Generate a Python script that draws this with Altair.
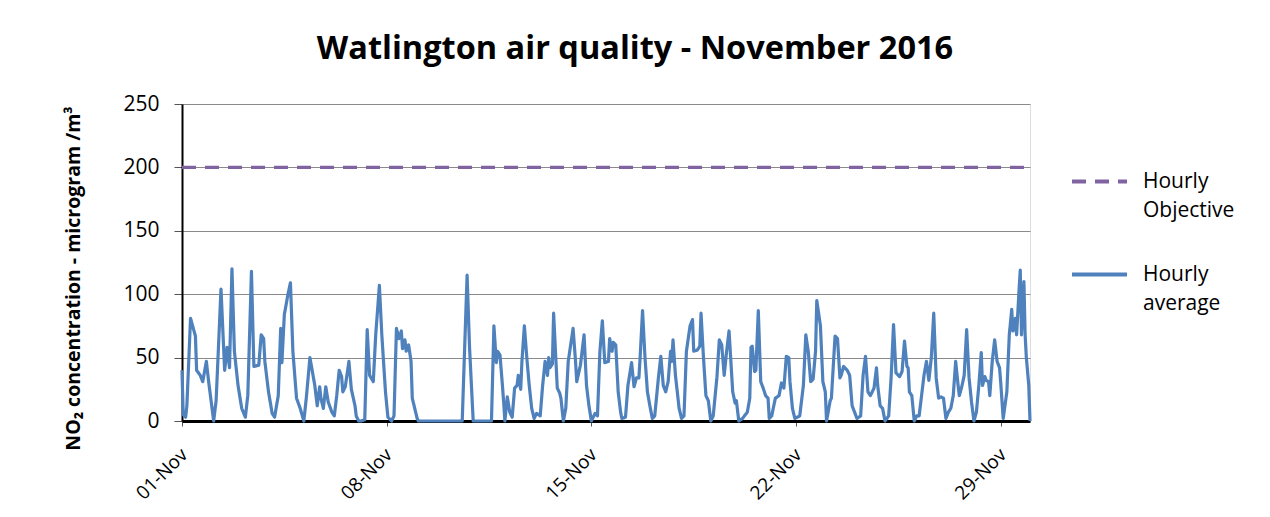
import altair as alt
import pandas as pd

# Hourly NO2 readings (hours after 01-Nov 00:00, value)
hours = [
    0, 1, 3, 4, 7, 11, 12, 15, 17, 20, 22, 26, 28, 32, 35, 37, 39, 41, 43, 46,
    49, 52, 54, 57, 59, 63, 65, 67, 68, 71, 74, 76, 79, 81, 82, 84, 87, 89, 91, 94,
    97, 100, 102, 105, 107, 109, 111, 113, 114, 116, 118, 120, 123, 125, 127, 129, 131, 132, 134, 137,
    139, 142, 143, 145, 147, 150, 152, 154, 157, 159, 162, 164, 167, 169, 172, 174, 176, 178, 180, 181,
    183, 184, 186, 188, 189, 191, 193, 194, 230, 232, 234, 236, 239, 254, 256, 258, 259, 261, 263, 264,
    265, 267, 269, 271, 273, 275, 276, 278, 279, 281, 283, 285, 287, 289, 291, 294, 296, 298, 300, 301,
    302, 304, 305, 308, 310, 311, 313, 315, 317, 321, 323, 324, 327, 330, 332, 334, 336, 339, 341, 343,
    345, 347, 350, 351, 353, 354, 356, 358, 360, 361, 364, 366, 369, 371, 373, 375, 376, 378, 380, 382,
    384, 386, 388, 391, 393, 395, 397, 399, 401, 402, 403, 405, 408, 410, 412, 414, 417, 419, 420, 423,
    425, 426, 428, 430, 432, 434, 436, 439, 441, 443, 445, 447, 449, 450, 452, 454, 455, 457, 460, 464,
    466, 467, 468, 470, 471, 473, 475, 477, 479, 481, 482, 484, 487, 490, 492, 494, 496, 498, 499, 501,
    503, 507, 510, 512, 514, 516, 518, 520, 521, 524, 526, 528, 529, 532, 533, 536, 538, 540, 541, 543,
    546, 548, 550, 552, 554, 557, 559, 561, 563, 565, 568, 570, 571, 573, 575, 577, 580, 582, 584, 586,
    589, 591, 593, 595, 596, 597, 599, 601, 603, 605, 607, 609, 611, 613, 615, 617, 619, 621, 623, 625,
    627, 629, 631, 633, 635, 637, 638, 640, 642, 644, 646, 648, 650, 652, 654, 656, 657, 659, 660, 662,
    663, 665, 667, 669, 671, 672, 674, 677, 679, 681, 682, 684, 685, 687, 688, 689, 691, 692, 693, 695,
    696,
]
values = [
    40, 5, 3, 12, 81, 67, 40, 36, 31, 47, 30, 0, 16, 104, 40, 58, 42, 120, 55, 28,
    10, 3, 20, 118, 43, 44, 68, 65, 47, 23, 6, 3, 20, 73, 46, 84, 100, 109, 55, 18,
    10, 0, 18, 50, 39, 28, 12, 27, 18, 10, 27, 15, 7, 4, 20, 40, 35, 23, 27, 47,
    25, 12, 4, 0, 0, 1, 72, 36, 31, 68, 107, 68, 23, 3, 0, 4, 73, 65, 71, 57,
    64, 55, 60, 47, 18, 10, 2, 0, 0, 58, 115, 58, 0, 0, 75, 46, 55, 52, 28, 15,
    0, 19, 7, 3, 26, 28, 36, 25, 47, 75, 50, 28, 10, 2, 6, 4, 28, 47, 36, 50,
    42, 45, 85, 26, 22, 18, 0, 10, 47, 73, 47, 31, 44, 68, 28, 12, 0, 6, 4, 55,
    79, 46, 47, 65, 55, 62, 60, 23, 7, 2, 3, 28, 46, 27, 34, 34, 50, 87, 50, 23,
    12, 2, 4, 34, 51, 28, 23, 31, 55, 47, 64, 36, 10, 2, 4, 55, 75, 80, 55, 56,
    59, 85, 50, 20, 16, 0, 4, 34, 64, 60, 36, 55, 71, 55, 23, 14, 16, 0, 2, 7,
    18, 58, 59, 39, 40, 87, 31, 26, 20, 18, 2, 4, 18, 20, 30, 26, 51, 50, 31, 10,
    2, 4, 28, 68, 55, 31, 33, 55, 95, 75, 31, 23, 0, 16, 18, 67, 65, 34, 36, 43,
    40, 36, 12, 7, 2, 4, 36, 51, 23, 20, 26, 42, 28, 12, 10, 0, 4, 34, 76, 38,
    35, 39, 63, 43, 42, 23, 20, 0, 4, 4, 20, 36, 47, 32, 50, 85, 34, 18, 19, 18,
    2, 7, 10, 20, 47, 28, 20, 27, 36, 72, 34, 15, 0, 7, 28, 54, 28, 35, 32, 31,
    20, 47, 64, 47, 42, 30, 2, 23, 68, 88, 71, 81, 68, 103, 119, 68, 110, 68, 50, 28,
    0,
]

objective_hours = [0, 696]
objective_values = [200, 200]

series_names = ["Hourly Objective", "Hourly average"]
series_colors = ["#8064A2", "#4F81BD"]
series_dashes = [[14, 9], [1, 0]]

tick_days = [1, 8, 15, 22, 29]
y_ticks = [0, 50, 100, 150, 200, 250]

start = pd.Timestamp("2016-11-01 00:00")
df_avg = pd.DataFrame({
    "time": [start + pd.Timedelta(hours=h) for h in hours],
    "value": values,
    "series": series_names[1],
})
df_obj = pd.DataFrame({
    "time": [start + pd.Timedelta(hours=h) for h in objective_hours],
    "value": objective_values,
    "series": series_names[0],
})
df = pd.concat([df_obj, df_avg], ignore_index=True)
df["time"] = df["time"].dt.strftime("%Y-%m-%dT%H:%M:%S")

FONT = "Open Sans"

legend = alt.Legend(
    title=None,
    orient="none",
    legendX=888,
    legendY=48,
    symbolType="stroke",
    symbolSize=3025,
    symbolStrokeWidth=4,
    labelFont=FONT,
    labelFontSize=21,
    labelColor="black",
    labelLimit=0,
    labelOffset=14,
    labelBaseline="middle",
    rowPadding=24,
    padding=0,
    labelExpr="split(datum.label, ' ')",
)

chart = alt.Chart(df).mark_line(strokeWidth=3.2, strokeJoin="round").encode(
    x=alt.X(
        "time:T",
        scale=alt.Scale(domain=[alt.DateTime(year=2016, month=11, date=1),
                                alt.DateTime(year=2016, month=11, date=30)]),
        axis=alt.Axis(
            values=[alt.DateTime(year=2016, month=11, date=d) for d in tick_days],
            format="%d-%b",
            labelAngle=-45,
            labelAlign="right",
            labelBaseline="top",
            labelOffset=-4.5,
            labelPadding=19,
            labelFont=FONT,
            labelFontSize=19,
            labelColor="black",
            tickSize=5,
            tickColor="#555555",
            domainColor="black",
            domainWidth=3,
            grid=False,
            title=None,
        ),
    ),
    y=alt.Y(
        "value:Q",
        scale=alt.Scale(domain=[0, 250]),
        axis=alt.Axis(
            values=y_ticks,
            title="NO₂ concentration - microgram /m³",
            titleFont=FONT,
            titleFontSize=19.5,
            titleFontWeight="bold",
            titleColor="black",
            titleAngle=270,
            titleAlign="center",
            titleBaseline="alphabetic",
            titleX=-103,
            titleY=174,
            labelFont=FONT,
            labelFontSize=21,
            labelColor="black",
            labelPadding=15,
            tickSize=8,
            tickColor="#555555",
            domainColor="black",
            domainWidth=2,
            gridColor="#8a8a8a",
            gridWidth=1.2,
        ),
    ),
    color=alt.Color("series:N",
                    scale=alt.Scale(domain=series_names, range=series_colors),
                    legend=legend),
    strokeDash=alt.StrokeDash("series:N",
                              scale=alt.Scale(domain=series_names, range=series_dashes),
                              legend=legend),
).properties(
    width=848,
    height=317,
    title=alt.TitleParams(
        "Watlington air quality - November 2016",
        font=FONT,
        fontSize=32.5,
        fontWeight="bold",
        color="black",
        anchor="middle",
        frame="group",
        baseline="alphabetic",
        offset=2,
        dx=29,
    ),
    autosize=alt.AutoSizeParams(type="none"),
    padding={"left": 174, "top": 96, "right": 232, "bottom": 88},
).configure_view(
    stroke="black",
    strokeWidth=2,
).configure(
    background="white",
    style={"guide-label": {"lineHeight": 29}},
)

chart.save("out.html", embed_options={"renderer": "svg", "actions": False})
